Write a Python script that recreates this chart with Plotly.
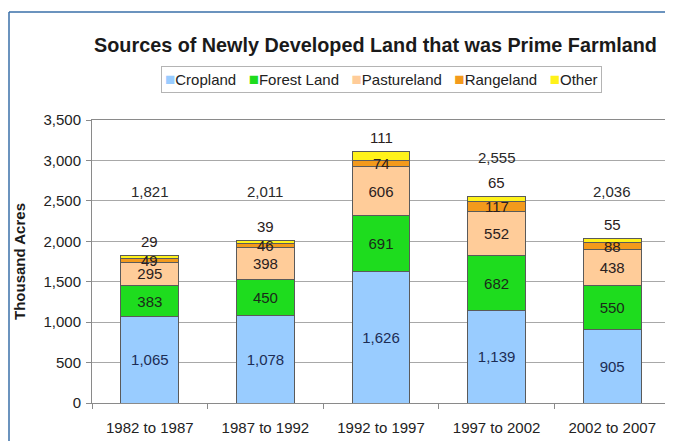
import plotly.graph_objects as go

periods = ["1982 to 1987", "1987 to 1992", "1992 to 1997", "1997 to 2002", "2002 to 2007"]
cropland = [1065, 1078, 1626, 1139, 905]
forest = [383, 450, 691, 682, 550]
pasture = [295, 398, 606, 552, 438]
rangeland = [49, 46, 74, 117, 88]
other = [29, 39, 111, 65, 55]
totals = [1821, 2011, 3108, 2555, 2036]

series = [
    ("Cropland", cropland, "#99CCFF", "#1c2c55"),
    ("Forest Land", forest, "#1EDC1E", "#1a2a1a"),
    ("Pastureland", pasture, "#FFCC99", "#2a2020"),
    ("Rangeland", rangeland, "#F39A1C", "#2a2020"),
    ("Other", other, "#FFF21A", "#2a2020"),
]

FONT = "Arial, Liberation Sans, sans-serif"
# the page body adds an 8px offset; figure coordinates are laid out to compensate
W, H = 665, 433
ML, MR, MT, MB = 84, 3, 112, 38
PW, PH = W - ML - MR, H - MT - MB
BOTTOM = H - MB  # plot bottom in figure pixels

fig = go.Figure()
for i, (name, vals, color, tcol) in enumerate(series):
    show_text = i < 3
    fig.add_trace(go.Bar(
        name=name, x=periods, y=vals,
        marker=dict(color=color, line=dict(color="#5a5a5a", width=1)),
        text=[f"{v:,}" for v in vals] if show_text else None,
        textposition="inside" if show_text else "none",
        insidetextanchor="middle",
        textfont=dict(family=FONT, size=15, color=tcol),
        width=0.5,
        showlegend=False,
    ))

annotations = []
for i, p in enumerate(periods):
    base_r = cropland[i] + forest[i] + pasture[i]
    annotations.append(dict(x=p, y=base_r + rangeland[i] / 2, text=str(rangeland[i]),
                            showarrow=False, font=dict(family=FONT, size=15, color="#2a2020"),
                            xref="x", yref="y", yanchor="middle"))
    annotations.append(dict(x=p, y=totals[i], text=str(other[i]), showarrow=False,
                            font=dict(family=FONT, size=15, color="#2a2020"),
                            xref="x", yref="y", yanchor="middle", yshift=14))
    annotations.append(dict(x=p, y=max(totals[i] + 480, 2620), text=f"{totals[i]:,}",
                            showarrow=False, font=dict(family=FONT, size=15, color="#2a2a2a"),
                            xref="x", yref="y", yanchor="middle"))

# legend box (compact, like the original)
legend_parts = []
for name, _, color, _ in series:
    legend_parts.append(f"<span style='color:{color};font-size:17px'>■</span>{name}")
annotations.append(dict(
    xref="paper", yref="paper", x=0.5, y=(BOTTOM - 71) / PH,
    xanchor="center", yanchor="middle", showarrow=False,
    text="&nbsp;&nbsp;&nbsp;".join(legend_parts),
    font=dict(family=FONT, size=15, color="#222"),
    bordercolor="#b4b4b4", borderwidth=1, borderpad=3, bgcolor="white",
))

frame = dict(color="#3a6fa8", width=1.5)
fig.update_layout(
    width=W, height=H,
    margin=dict(l=ML, r=MR, t=MT, b=MB, autoexpand=False),
    barmode="stack",
    paper_bgcolor="white", plot_bgcolor="white",
    font=dict(family=FONT, size=14, color="#222"),
    title=dict(text="<b>Sources of Newly Developed Land that was Prime Farmland</b>",
               x=367.5 / W, xanchor="center", y=1 - 37 / H, yanchor="middle",
               font=dict(family=FONT, size=19.8, color="#1a1a1a")),
    showlegend=False,
    annotations=annotations,
    shapes=[
        dict(type="line", xref="paper", yref="paper", x0=0, x1=0, y0=0, y1=1,
             xsizemode="pixel", ysizemode="pixel", xanchor=0, yanchor=1,
             ) if False else
        dict(type="line", xref="paper", yref="paper",
             x0=(1 - ML) / PW, x1=(1 - ML) / PW, y0=-MB / PH, y1=(BOTTOM - 4) / PH, line=frame),
        dict(type="line", xref="paper", yref="paper",
             x0=(1 - ML) / PW, x1=(W - ML) / PW, y0=(BOTTOM - 4) / PH, y1=(BOTTOM - 4) / PH, line=frame),
    ],
)
fig.update_xaxes(showline=True, linecolor="#8a8a8a", mirror=True, ticks="outside",
                 tickson="boundaries", ticklen=5, tickcolor="#8a8a8a", automargin=False,
                 tickfont=dict(family=FONT, size=15, color="#222"), ticklabelstandoff=11)
fig.update_yaxes(range=[0, 3500], dtick=500, tickformat=",", showline=True, linecolor="#8a8a8a",
                 mirror=True, ticks="outside", ticklen=5, tickcolor="#8a8a8a",
                 gridcolor="#a8a8a8", gridwidth=1, automargin=False, ticklabelstandoff=2,
                 tickfont=dict(family=FONT, size=15, color="#222"),
                 title=dict(text="<b>Thousand Acres</b>", font=dict(family=FONT, size=15, color="#1a1a1a"),
                            standoff=14))
fig.write_html("out.html")
